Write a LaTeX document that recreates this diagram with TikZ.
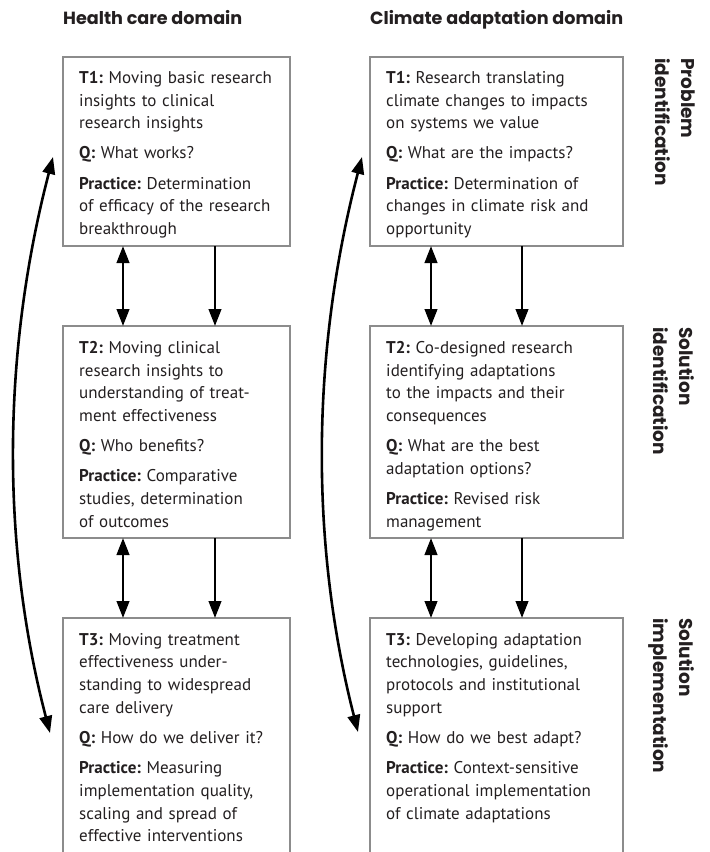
\documentclass[tikz,border=0pt]{standalone}
\usepackage{fontspec}
\setmainfont{PT Sans}
\newfontfamily\headfont{Poppins}
\usetikzlibrary{arrows.meta}
\definecolor{txt}{HTML}{231F20}
\definecolor{boxgray}{HTML}{8C8C8C}
\frenchspacing
\begin{document}
\begin{tikzpicture}[x=1pt,y=-1pt,
  box/.style={draw=boxgray, line width=1.1pt, anchor=north west, inner sep=0pt, outer sep=0pt},
  body/.style={anchor=north west, inner sep=0pt, text width=245pt, align=left, text=txt,
    font=\frenchspacing\fontsize{17}{22.7}\selectfont},
  tip/.tip={Triangle[length=17pt,width=12.5pt]},
  onearr/.style={line width=2.6pt, -tip},
  twoarr/.style={line width=2.6pt, tip-tip},
  head/.style={anchor=base west, inner sep=0pt, text=txt, font=\headfont\bfseries\fontsize{17.6}{22}\selectfont},
  side/.style={rotate=-90, anchor=north west, inner sep=0pt, align=left, text=txt,
    font=\headfont\bfseries\fontsize{18.5}{26}\selectfont}]
\useasboundingbox (0,0) rectangle (710,852);
\clip (0,0) rectangle (710,852);

% headers
\node[head] (hL) at (63,24) {Health care domain};
\node[head] (hR) at (370,24) {Climate adaptation domain};

% side labels
\node[side] (s1) at (695,58) {Problem\\identification};
\node[side] (s2) at (695,327) {Solution\\identification};
\node[side] (s3) at (695,618) {Solution\\implementation};

% boxes
\node[box, minimum width=227pt, minimum height=189pt] (L1) at (63,57) {};
\node[box, minimum width=227pt, minimum height=212pt] (L2) at (63,326) {};
\node[box, minimum width=227pt, minimum height=300pt] (L3) at (63,618) {};
\node[box, minimum width=253pt, minimum height=189pt] (R1) at (370,57) {};
\node[box, minimum width=253pt, minimum height=212pt] (R2) at (370,326) {};
\node[box, minimum width=253pt, minimum height=300pt] (R3) at (370,618) {};

% texts
\node[body] (L1t) at (79,71) {\textbf{T1:} Moving basic research\\insights to clinical\\research insights\\[7.5pt]
\textbf{Q:} What works?\\[7.5pt]
\textbf{Practice:} Determination\\of efficacy of the research\\breakthrough};
\node[body] (L2t) at (79,341) {\textbf{T2:} Moving clinical\\research insights to\\understanding of treat-\\ment effectiveness\\[7.5pt]
\textbf{Q:} Who benefits?\\[7.5pt]
\textbf{Practice:} Comparative\\studies, determination\\of outcomes};
\node[body] (L3t) at (79,633) {\textbf{T3:} Moving treatment\\effectiveness under-\\standing to widespread\\care delivery\\[7.5pt]
\textbf{Q:} How do we deliver it?\\[7.5pt]
\textbf{Practice:} Measuring\\implementation quality,\\scaling and spread of\\effective interventions};
\node[body] (R1t) at (386,71) {\textbf{T1:} Research translating\\climate changes to impacts\\on systems we value\\[7.5pt]
\textbf{Q:} What are the impacts?\\[7.5pt]
\textbf{Practice:} Determination of\\changes in climate risk and\\opportunity};
\node[body] (R2t) at (386,341) {\textbf{T2:} Co-designed research\\identifying adaptations\\to the impacts and their\\consequences\\[7.5pt]
\textbf{Q:} What are the best\\adaptation options?\\[7.5pt]
\textbf{Practice:} Revised risk\\management};
\node[body] (R3t) at (386,633) {\textbf{T3:} Developing adaptation\\technologies, guidelines,\\protocols and institutional\\support\\[7.5pt]
\textbf{Q:} How do we best adapt?\\[7.5pt]
\textbf{Practice:} Context-sensitive\\operational implementation\\of climate adaptations};

% vertical arrows
\draw[twoarr] ([xshift=60pt]L1.south west) -- ([xshift=60pt]L2.north west);
\draw[onearr] ([xshift=152pt]L1.south west) -- ([xshift=152pt]L2.north west);
\draw[twoarr] ([xshift=60pt]L2.south west) -- ([xshift=60pt]L3.north west);
\draw[onearr] ([xshift=152pt]L2.south west) -- ([xshift=152pt]L3.north west);
\draw[twoarr] ([xshift=61pt]R1.south west) -- ([xshift=61pt]R2.north west);
\draw[onearr] ([xshift=152pt]R1.south west) -- ([xshift=152pt]R2.north west);
\draw[twoarr] ([xshift=61pt]R2.south west) -- ([xshift=61pt]R3.north west);
\draw[onearr] ([xshift=152pt]R2.south west) -- ([xshift=152pt]R3.north west);

% curved arrows
\coordinate (cLa) at (53,157);
\coordinate (cLb) at (50,733);
\coordinate (cRa) at (362,157);
\coordinate (cRb) at (358,732);
\draw[twoarr] (cLa) .. controls (3,349) and (0,541) .. (cLb);
\draw[twoarr] (cRa) .. controls (312,349) and (309,540) .. (cRb);
\end{tikzpicture}
\end{document}
